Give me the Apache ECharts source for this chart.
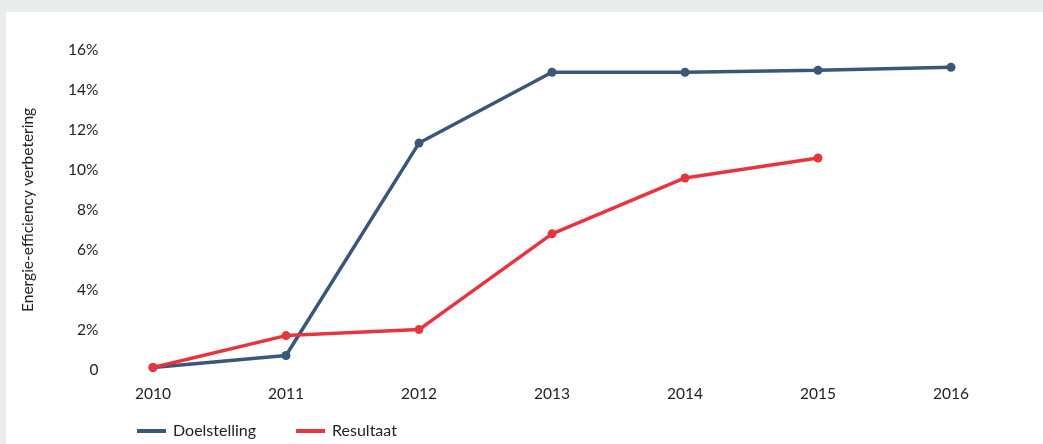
<!DOCTYPE html>
<html>
<head>
<meta charset="utf-8">
<script src="https://cdn.jsdelivr.net/npm/echarts@6/dist/echarts.min.js"></script>
<style>
  html, body { margin: 0; padding: 0; background: #e8eceb; }
  #panel { position: absolute; left: 6px; top: 12px; right: 0; bottom: 0; background: #ffffff; }
  #chart { position: absolute; left: 0; top: 0; width: 1043px; height: 444px; }
</style>
</head>
<body>
<div id="panel"></div>
<div id="chart"></div>
<script>
// Years on the horizontal axis
const years = ['2010', '2011', '2012', '2013', '2014', '2015', '2016'];
// Target energy-efficiency improvement (%)
const doelstelling = [0.1, 0.7, 11.35, 14.9, 14.9, 15.0, 15.15];
// Achieved energy-efficiency improvement (%)
const resultaat = [0.1, 1.7, 2.0, 6.8, 9.6, 10.6, null];
// Vertical axis ticks (%)
const yTicks = [0, 2, 4, 6, 8, 10, 12, 14, 16];

const FONT = 'Lato, "Noto Sans", sans-serif';
const TEXT = '#222222';
const BLUE = '#3a5679';
const RED = '#e8343f';

const chart = echarts.init(document.getElementById('chart'), null, { renderer: 'canvas' });
chart.setOption({
  backgroundColor: 'transparent',
  animation: false,
  textStyle: { fontFamily: FONT },
  grid: { left: 86.5, right: 25.5, top: 50.3, bottom: 74.5, containLabel: false },
  legend: {
    left: 132,
    top: 418,
    itemWidth: 29,
    itemHeight: 4,
    itemGap: 40,
    icon: 'rect',
    textStyle: { fontFamily: FONT, fontSize: 16, color: TEXT, padding: [0, 0, 0, 2] },
    data: ['Doelstelling', 'Resultaat']
  },
  xAxis: {
    type: 'category',
    data: years,
    boundaryGap: true,
    axisLine: { show: false },
    axisTick: { show: false },
    splitLine: { show: false },
    axisLabel: { fontFamily: FONT, fontSize: 15.5, color: TEXT, margin: 16 }
  },
  yAxis: {
    type: 'value',
    min: yTicks[0],
    max: yTicks[yTicks.length - 1],
    interval: 2,
    name: 'Energie-efficiency verbetering',
    nameLocation: 'middle',
    nameGap: 51,
    nameTextStyle: { fontFamily: FONT, fontSize: 15.5, color: TEXT },
    axisLine: { show: false },
    axisTick: { show: false },
    splitLine: { show: false },
    axisLabel: {
      fontFamily: FONT, fontSize: 15.5, color: TEXT, margin: -12,
      formatter: v => (v === 0 ? '0' : v + '%')
    }
  },
  series: [
    {
      name: 'Doelstelling',
      type: 'line',
      data: doelstelling,
      symbol: 'circle',
      symbolSize: 9,
      lineStyle: { color: BLUE, width: 3.5 },
      itemStyle: { color: BLUE },
      z: 2
    },
    {
      name: 'Resultaat',
      type: 'line',
      data: resultaat,
      symbol: 'circle',
      symbolSize: 9,
      lineStyle: { color: RED, width: 3.5 },
      itemStyle: { color: RED },
      z: 3
    }
  ]
});
</script>
</body>
</html>
